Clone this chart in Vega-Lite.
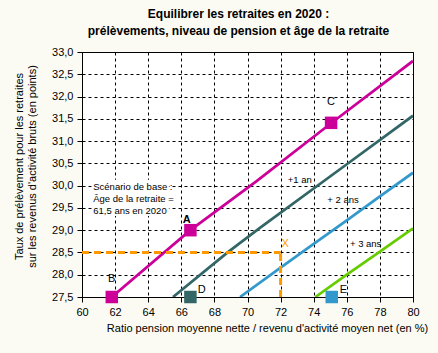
{
  "$schema": "https://vega.github.io/schema/vega-lite/v6.json",
  "width": 331,
  "height": 245,
  "autosize": {"type": "none"},
  "padding": {"left": 82, "top": 52, "right": 25, "bottom": 56},
  "background": "#fbfbf4",
  "config": {
    "font": "Liberation Sans",
    "view": {"stroke": "#000000", "strokeWidth": 1, "fill": "#ffffff"},
    "axis": {
      "domainColor": "#000000",
      "tickColor": "#000000",
      "tickSize": 5,
      "labelColor": "#000000",
      "labelFontSize": 11,
      "labelFont": "Liberation Sans",
      "labelOverlap": false,
      "labelSeparation": 0,
      "gridColor": "#000000",
      "gridDash": [3, 3],
      "gridOpacity": 1,
      "gridWidth": 1,
      "titleFont": "Liberation Sans",
      "titleFontSize": 11,
      "titleFontWeight": "normal",
      "titleColor": "#000000"
    }
  },
  "title": {
    "text": ["Equilibrer les retraites en 2020 :", "prélèvements, niveau de pension et âge de la retraite"],
    "fontSize": 12,
    "fontWeight": "bold",
    "font": "Liberation Sans",
    "color": "#000000",
    "anchor": "middle",
    "frame": "group",
    "dx": -9,
    "dy": 16,
    "lineHeight": 17,
    "baseline": "bottom",
    "offset": 12
  },
  "datasets": {
    "lines": [
      {"series": "base", "x": 61.8, "y": 27.5},
      {"series": "base", "x": 66.55, "y": 29.0},
      {"series": "base", "x": 70.55, "y": 30.1},
      {"series": "base", "x": 75.05, "y": 31.4},
      {"series": "base", "x": 80, "y": 32.8},
      {"series": "+1 an", "x": 65.5, "y": 27.5},
      {"series": "+1 an", "x": 68.8, "y": 28.5},
      {"series": "+1 an", "x": 70.75, "y": 29.05},
      {"series": "+1 an", "x": 76, "y": 30.48},
      {"series": "+1 an", "x": 80, "y": 31.57},
      {"series": "+2 ans", "x": 69.55, "y": 27.5},
      {"series": "+2 ans", "x": 72, "y": 28.16},
      {"series": "+2 ans", "x": 74, "y": 28.69},
      {"series": "+2 ans", "x": 76, "y": 29.22},
      {"series": "+2 ans", "x": 78, "y": 29.76},
      {"series": "+2 ans", "x": 80, "y": 30.29},
      {"series": "+3 ans", "x": 74.1, "y": 27.5},
      {"series": "+3 ans", "x": 76, "y": 28.0},
      {"series": "+3 ans", "x": 78, "y": 28.52},
      {"series": "+3 ans", "x": 80, "y": 29.04}
    ],
    "markers": [
      {"series": "base", "x": 61.8, "y": 27.5},
      {"series": "base", "x": 66.55, "y": 29.0},
      {"series": "base", "x": 75.05, "y": 31.41},
      {"series": "+1 an", "x": 66.55, "y": 27.5},
      {"series": "+2 ans", "x": 75.09, "y": 27.5}
    ],
    "guides": [
      {"x": 60, "x2": 72, "y": 28.5, "y2": 28.5},
      {"x": 72, "x2": 72, "y": 27.5, "y2": 28.5}
    ],
    "notebox": [
      {"x": 60.6, "x2": 65.25, "y": 29.32, "y2": 30.13}
    ],
    "letters": [
      {"label": "B", "x": 61.79, "y": 27.91},
      {"label": "C", "x": 75.05, "y": 31.87},
      {"label": "D", "x": 67.23, "y": 27.66},
      {"label": "E", "x": 75.79, "y": 27.66}
    ],
    "bold": [
      {"label": "A", "x": 66.33, "y": 29.22}
    ],
    "xmark": [
      {"label": "X", "x": 72.27, "y": 28.7}
    ],
    "notes": [
      {"label": "Scénario de base :", "x": 60.68, "y": 29.97},
      {"label": "Âge de la retraite =", "x": 60.68, "y": 29.7},
      {"label": "61,5  ans en 2020", "x": 60.68, "y": 29.43},
      {"label": "+1 an", "x": 72.43, "y": 30.12},
      {"label": "+ 2 ans", "x": 74.82, "y": 29.67},
      {"label": "+ 3 ans", "x": 76.19, "y": 28.7}
    ]
  },
  "encoding": {
    "x": {
      "field": "x", "type": "quantitative",
      "scale": {"domain": [60, 80], "nice": false, "zero": false},
      "axis": {
        "values": [60, 62, 64, 66, 68, 70, 72, 74, 76, 78, 80],
        "labelOverlap": false,
        "labelFlush": false,
        "labelPadding": 4,
        "title": "Ratio pension moyenne nette / revenu d'activité moyen net (en %)",
        "titleX": 185,
        "titleY": 34,
        "titleAlign": "center",
        "titleBaseline": "alphabetic"
      }
    },
    "y": {
      "field": "y", "type": "quantitative",
      "scale": {"domain": [27.5, 33], "nice": false, "zero": false},
      "axis": {
        "values": [27.5, 28, 28.5, 29, 29.5, 30, 30.5, 31, 31.5, 32, 32.5, 33],
        "labelExpr": "replace(format(datum.value, '.1f'), '.', ',')",
        "labelOverlap": false,
        "labelFlush": false,
        "labelPadding": 4,
        "title": ["Taux de prélèvement pour les retraites", "sur les revenus d'activité bruts (en points)"],
        "titleX": -69,
        "titleY": 114,
        "titleAngle": -90,
        "titleAlign": "center",
        "titleBaseline": "top",
        "titleLineHeight": 13
      }
    }
  },
  "layer": [
    {
      "data": {"name": "notebox"},
      "mark": {"type": "rect", "fill": "#ffffff", "stroke": null},
      "encoding": {
        "x2": {"field": "x2"},
        "y2": {"field": "y2"}
      }
    },
    {
      "data": {"name": "lines"},
      "mark": {"type": "line", "strokeWidth": 2.75, "clip": true},
      "encoding": {
        "color": {
          "field": "series", "type": "nominal",
          "scale": {"domain": ["base", "+1 an", "+2 ans", "+3 ans"], "range": ["#cc0099", "#336666", "#3399cc", "#66cc00"]},
          "legend": null
        },
        "order": {"field": "x", "type": "quantitative"}
      }
    },
    {
      "data": {"name": "guides"},
      "mark": {"type": "rule", "color": "#ff9900", "strokeWidth": 3, "strokeDash": [7, 5]},
      "encoding": {
        "x2": {"field": "x2"},
        "y2": {"field": "y2"}
      }
    },
    {
      "data": {"name": "markers"},
      "mark": {"type": "point", "shape": "square", "filled": true, "opacity": 1, "size": 156},
      "encoding": {
        "color": {"field": "series", "type": "nominal", "legend": null}
      }
    },
    {
      "data": {"name": "letters"},
      "mark": {"type": "text", "fontSize": 11, "color": "#000000", "align": "center", "baseline": "middle"},
      "encoding": {
        "text": {"field": "label"}
      }
    },
    {
      "data": {"name": "bold"},
      "mark": {"type": "text", "fontSize": 11, "fontWeight": "bold", "color": "#000000", "align": "center", "baseline": "middle"},
      "encoding": {
        "text": {"field": "label"}
      }
    },
    {
      "data": {"name": "xmark"},
      "mark": {"type": "text", "fontSize": 11, "color": "#ff9900", "align": "center", "baseline": "middle"},
      "encoding": {
        "text": {"field": "label"}
      }
    },
    {
      "data": {"name": "notes"},
      "mark": {"type": "text", "fontSize": 9.5, "color": "#000000", "align": "left", "baseline": "middle"},
      "encoding": {
        "text": {"field": "label"}
      }
    }
  ]
}
